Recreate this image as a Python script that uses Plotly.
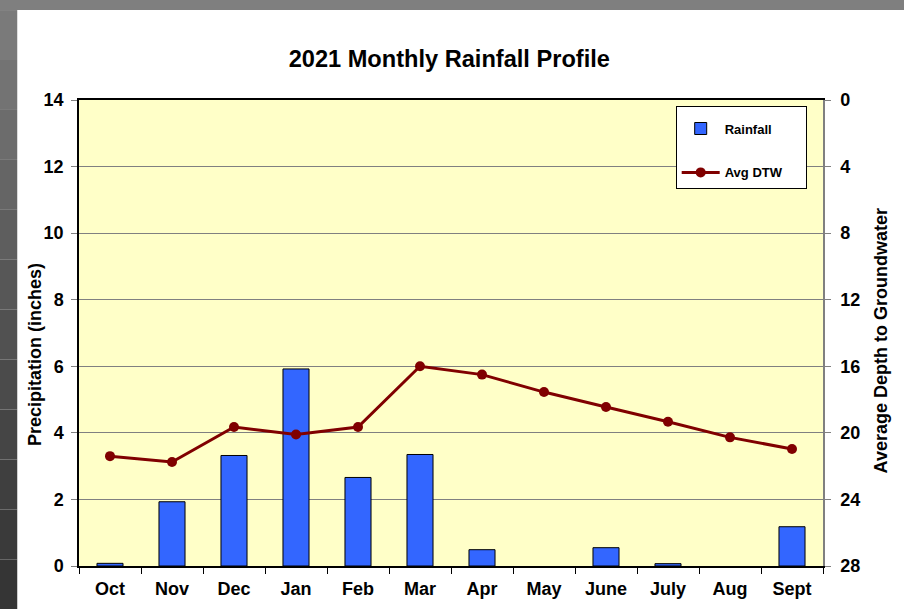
import plotly.graph_objects as go

# Monthly data, water year 2021
months = ['Oct', 'Nov', 'Dec', 'Jan', 'Feb', 'Mar', 'Apr', 'May', 'June', 'July', 'Aug', 'Sept']
rainfall = [0.08, 1.93, 3.32, 5.92, 2.66, 3.35, 0.49, 0.0, 0.55, 0.07, 0.0, 1.18]
avg_dtw = [21.4, 21.75, 19.65, 20.1, 19.65, 16.0, 16.5, 17.55, 18.45, 19.33, 20.27, 20.97]

left_ticks = [0, 2, 4, 6, 8, 10, 12, 14]
right_ticks = [0, 4, 8, 12, 16, 20, 24, 28]

FONT = "Arial, Liberation Sans, sans-serif"
BOLD = dict(family=FONT, size=18, weight='bold', color='#000000')
PAD = '&nbsp;' * 5  # widens the legend box to match the original

fig = go.Figure()

# no outline on months with zero rain, like the original
outline = [0 if v == 0 else 1 for v in rainfall]

fig.add_trace(go.Bar(
    x=months,
    y=rainfall,
    name='Rainfall',
    width=0.42,
    marker=dict(color='#3366FF', line=dict(color='#000000', width=outline)),
    legendgroup='a',
))

fig.add_trace(go.Scatter(
    x=months,
    y=avg_dtw,
    name='Avg DTW' + PAD,
    yaxis='y2',
    mode='lines+markers',
    line=dict(color='#800000', width=3),
    marker=dict(color='#800000', size=10),
    legendgroup='b',
))

# grey slide frame on the left and top edges (gradient approximated by bands)
shapes = []
greys = ['#7a7a7a', '#737373', '#6c6c6c', '#656565', '#5e5e5e', '#575757',
         '#515151', '#4b4b4b', '#454545', '#3f3f3f', '#3a3a3a', '#353535']
n = len(greys)
y_top, y_bot = 1.193, -0.093
for i, g in enumerate(greys):
    y1 = y_top - (y_top - y_bot) * i / n
    y0 = y_top - (y_top - y_bot) * (i + 1) / n
    shapes.append(dict(type='rect', xref='paper', yref='paper',
                       x0=-0.107, x1=-0.083, y0=y0, y1=y1,
                       fillcolor=g, line=dict(width=0), layer='below'))
shapes.append(dict(type='rect', xref='paper', yref='paper',
                   x0=-0.107, x1=1.11, y0=1.193, y1=1.22,
                   fillcolor='#7f7f7f', line=dict(width=0), layer='below'))

# axis titles as annotations so they sit where the original puts them
axis_titles = [
    dict(text='Precipitation (inches)', xref='paper', yref='paper',
         x=-0.059, y=0.453, textangle=-90, showarrow=False,
         xanchor='center', yanchor='middle',
         font=dict(family=FONT, size=18, weight='bold', color='#000000')),
    dict(text='Average Depth to Groundwater', xref='paper', yref='paper',
         x=1.078, y=0.482, textangle=-90, showarrow=False,
         xanchor='center', yanchor='middle',
         font=dict(family=FONT, size=18, weight='bold', color='#000000')),
]

fig.update_layout(
    width=904,
    height=609,
    margin=dict(l=79, r=81, t=100, b=43),
    paper_bgcolor='white',
    plot_bgcolor='#FFFFC8',
    font=dict(family=FONT, color='#000000', size=13),
    title=dict(text='2021 Monthly Rainfall Profile', x=0.497, xanchor='center',
               y=0.903, yanchor='middle',
               font=dict(family=FONT, size=23.6, weight='bold', color='#000000')),
    xaxis=dict(
        type='category',
        range=[-0.5, len(months) - 0.5],
        tickson='boundaries',
        ticks='outside',
        ticklen=6,
        tickcolor='#000000',
        showline=True,
        linecolor='#000000',
        linewidth=1.5,
        mirror=True,
        showgrid=False,
        tickfont=BOLD,
        ticklabelstandoff=6,
        automargin=False,
    ),
    yaxis=dict(
        range=[0, 14],
        tickvals=left_ticks,
        ticks='outside',
        ticklen=6,
        tickcolor='#808080',
        showline=True,
        linecolor='#000000',
        linewidth=1.5,
        showgrid=True,
        gridcolor='#808080',
        gridwidth=1,
        zeroline=False,
        tickfont=BOLD,
        ticklabelstandoff=4,
        automargin=False,
    ),
    yaxis2=dict(
        overlaying='y',
        side='right',
        range=[28, 0],
        tickvals=right_ticks,
        ticks='outside',
        ticklen=6,
        tickcolor='#808080',
        showline=True,
        linecolor='#808080',
        linewidth=1.5,
        showgrid=False,
        zeroline=False,
        tickfont=BOLD,
        ticklabelstandoff=6,
        automargin=False,
    ),
    legend=dict(
        x=0.802, y=0.987, xanchor='left', yanchor='top',
        bgcolor='white',
        bordercolor='#000000',
        borderwidth=1,
        font=dict(size=13, family=FONT, weight='bold', color='#000000'),
        title=dict(text=' ', font=dict(size=5)),
        traceorder='grouped',
        tracegroupgap=24,
        itemwidth=38,
    ),
    shapes=shapes,
    annotations=axis_titles,
)

fig.write_html("out.html", post_script="document.body.style.margin='0';",
               config={'displayModeBar': False})
